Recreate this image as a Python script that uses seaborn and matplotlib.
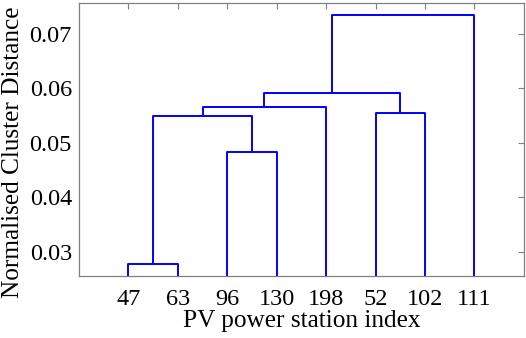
import matplotlib
matplotlib.use("Agg")
import matplotlib.pyplot as plt
import seaborn as sns
import pandas as pd
import numpy as np

# Leaf labels in dendrogram order
leaf_labels = ["47", "63", "96", "130", "198", "52", "102", "111"]
# Merges: (left child, right child, height); children are leaf indices (0..7) or "c<k>" for earlier merge k
merge_left = [0, 2, "c0", "c2", 5, "c3", "c5"]
merge_right = [1, 3, "c1", 4, 6, "c4", 7]
merge_height = [0.0278, 0.0483, 0.0549, 0.0566, 0.0554, 0.0591, 0.0734]

ylim = (0.0256, 0.0756)

sns.set_style("white")
plt.rcParams["font.family"] = ["Liberation Serif", "DejaVu Serif"]
plt.rcParams["text.color"] = "black"
plt.rcParams["axes.labelcolor"] = "black"
plt.rcParams["xtick.labelcolor"] = "black"
plt.rcParams["ytick.labelcolor"] = "black"

fig = plt.figure(figsize=(5.26, 3.38), dpi=100)
ax = fig.add_axes([0.150, 0.1834, 0.846, 0.8076])

# compute positions
pos = {}
hgt = {}
for i in range(len(leaf_labels)):
    pos[i] = i + 1
    hgt[i] = ylim[0]

rows = []
for k, (l, r, h) in enumerate(zip(merge_left, merge_right, merge_height)):
    xl, xr = pos[l], pos[r]
    yl, yr = hgt[l], hgt[r]
    for j, (xx, yy) in enumerate([(xl, yl), (xl, h), (xr, h), (xr, yr)]):
        rows.append({"seg": k, "order": j, "x": xx, "y": yy})
    pos["c%d" % k] = (xl + xr) / 2
    hgt["c%d" % k] = h

df = pd.DataFrame(rows)
sns.lineplot(data=df, x="x", y="y", units="seg", estimator=None, sort=False,
             color="#0000ff", linewidth=1.4, ax=ax)

ax.set_xlim(0, len(leaf_labels) + 1)
ax.set_ylim(*ylim)
ax.set_xticks(range(1, len(leaf_labels) + 1))
ax.set_xticklabels(leaf_labels)
ax.set_yticks([0.03, 0.04, 0.05, 0.06, 0.07])
ax.set_yticklabels(["0.03", "0.04", "0.05", "0.06", "0.07"])
ax.tick_params(direction="in", length=4, width=0.8, color="#808080",
               top=True, right=True, labelsize=17.5, labelcolor="black")
ax.tick_params(axis="x", pad=9)
ax.tick_params(axis="y", pad=5)
for s in ax.spines.values():
    s.set_color("#808080")
    s.set_linewidth(0.9)
ax.set_xlabel("PV power station index", fontsize=18.2, labelpad=0, color="black")
ax.set_ylabel("Normalised Cluster Distance", fontsize=18.2, color="black")
ax.yaxis.set_label_coords(-0.124, 0.454)

fig.savefig("out.png", dpi=100)
